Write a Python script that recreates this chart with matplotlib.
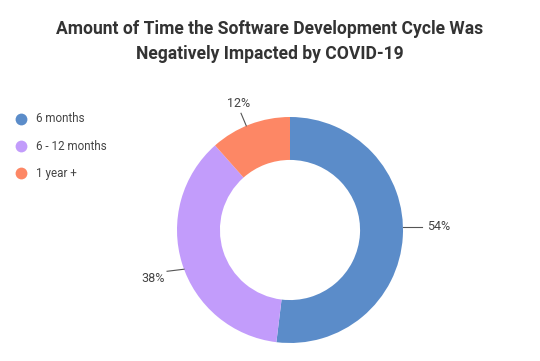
import numpy as np
import matplotlib
matplotlib.use("Agg")
import matplotlib.pyplot as plt
from matplotlib.lines import Line2D

plt.rcParams['font.family'] = ['Roboto', 'DejaVu Sans']

title = "Amount of Time the Software Development Cycle Was\nNegatively Impacted by COVID-19"
categories = ["6 months", "6 - 12 months", "1 year +"]
values = [54, 38, 12]
labels = ["54%", "38%", "12%"]
colors = ["#5b8cc9", "#c29cfb", "#fd8765"]

W, H = 540, 361
fig = plt.figure(figsize=(W / 100, H / 100), dpi=100)
fig.patch.set_facecolor("white")

cx, cy, R = 290, 230, 113
ax = fig.add_axes([(cx - R) / W, (H - cy - R) / H, 2 * R / W, 2 * R / H])
wedges, _ = ax.pie(values, colors=colors, startangle=90, counterclock=False,
                   radius=1.0, wedgeprops=dict(width=0.38, edgecolor="none"))
ax.set_xlim(-1, 1)
ax.set_ylim(-1, 1)
ax.set_aspect("equal")
ax.axis("off")

# leader-line angle tweaks (degrees) and lengths, per label
ang_shift = [5.0, 3.0, 2.0]
line_len = [0.17, 0.15, 0.12]

for w, lab, dsh, ll in zip(wedges, labels, ang_shift, line_len):
    ang = np.deg2rad((w.theta1 + w.theta2) / 2 + dsh)
    c, s = np.cos(ang), np.sin(ang)
    x0, y0 = 1.0 * c, 1.0 * s
    if abs(c) > 0.5:
        x1 = x0 + np.sign(c) * ll
        y1 = y0 + ll * s / abs(c) * 0.33 if c < 0 else y0
        ax.plot([x0, x1], [y0, y1], color="#555555", lw=0.8, clip_on=False)
        ha = "left" if c > 0 else "right"
        tx = x1 + (0.04 if c > 0 else -0.02)
        ty = y1 - (0.0 if c > 0 else 0.06)
        ax.text(tx, ty, lab, ha=ha, va="center", fontsize=9,
                color="#444444")
    else:
        x1, y1 = (1.0 + ll) * c, (1.0 + ll) * s
        ax.plot([x0, x1], [y0, y1], color="#555555", lw=0.8, clip_on=False)
        ax.text(x1 - 0.02, y1 + 0.03, lab, ha="center", va="bottom", fontsize=9,
                color="#444444")

fig.text(0.5, 1 - 41.5 / H, title, ha="center", va="center", fontsize=12.65,
         fontweight="bold", color="#333333", linespacing=1.45)

for i, (cat, col) in enumerate(zip(categories, colors)):
    y = 1 - (119 + 27 * i) / H
    fig.add_artist(Line2D([21 / W], [y], marker="o", markersize=8.5,
                          color=col, markeredgewidth=0, linestyle="none"))
    fig.text(36 / W, y, cat, ha="left", va="center", fontsize=8.4,
             color="#444444")

fig.savefig("out.png", dpi=100, facecolor="white")
